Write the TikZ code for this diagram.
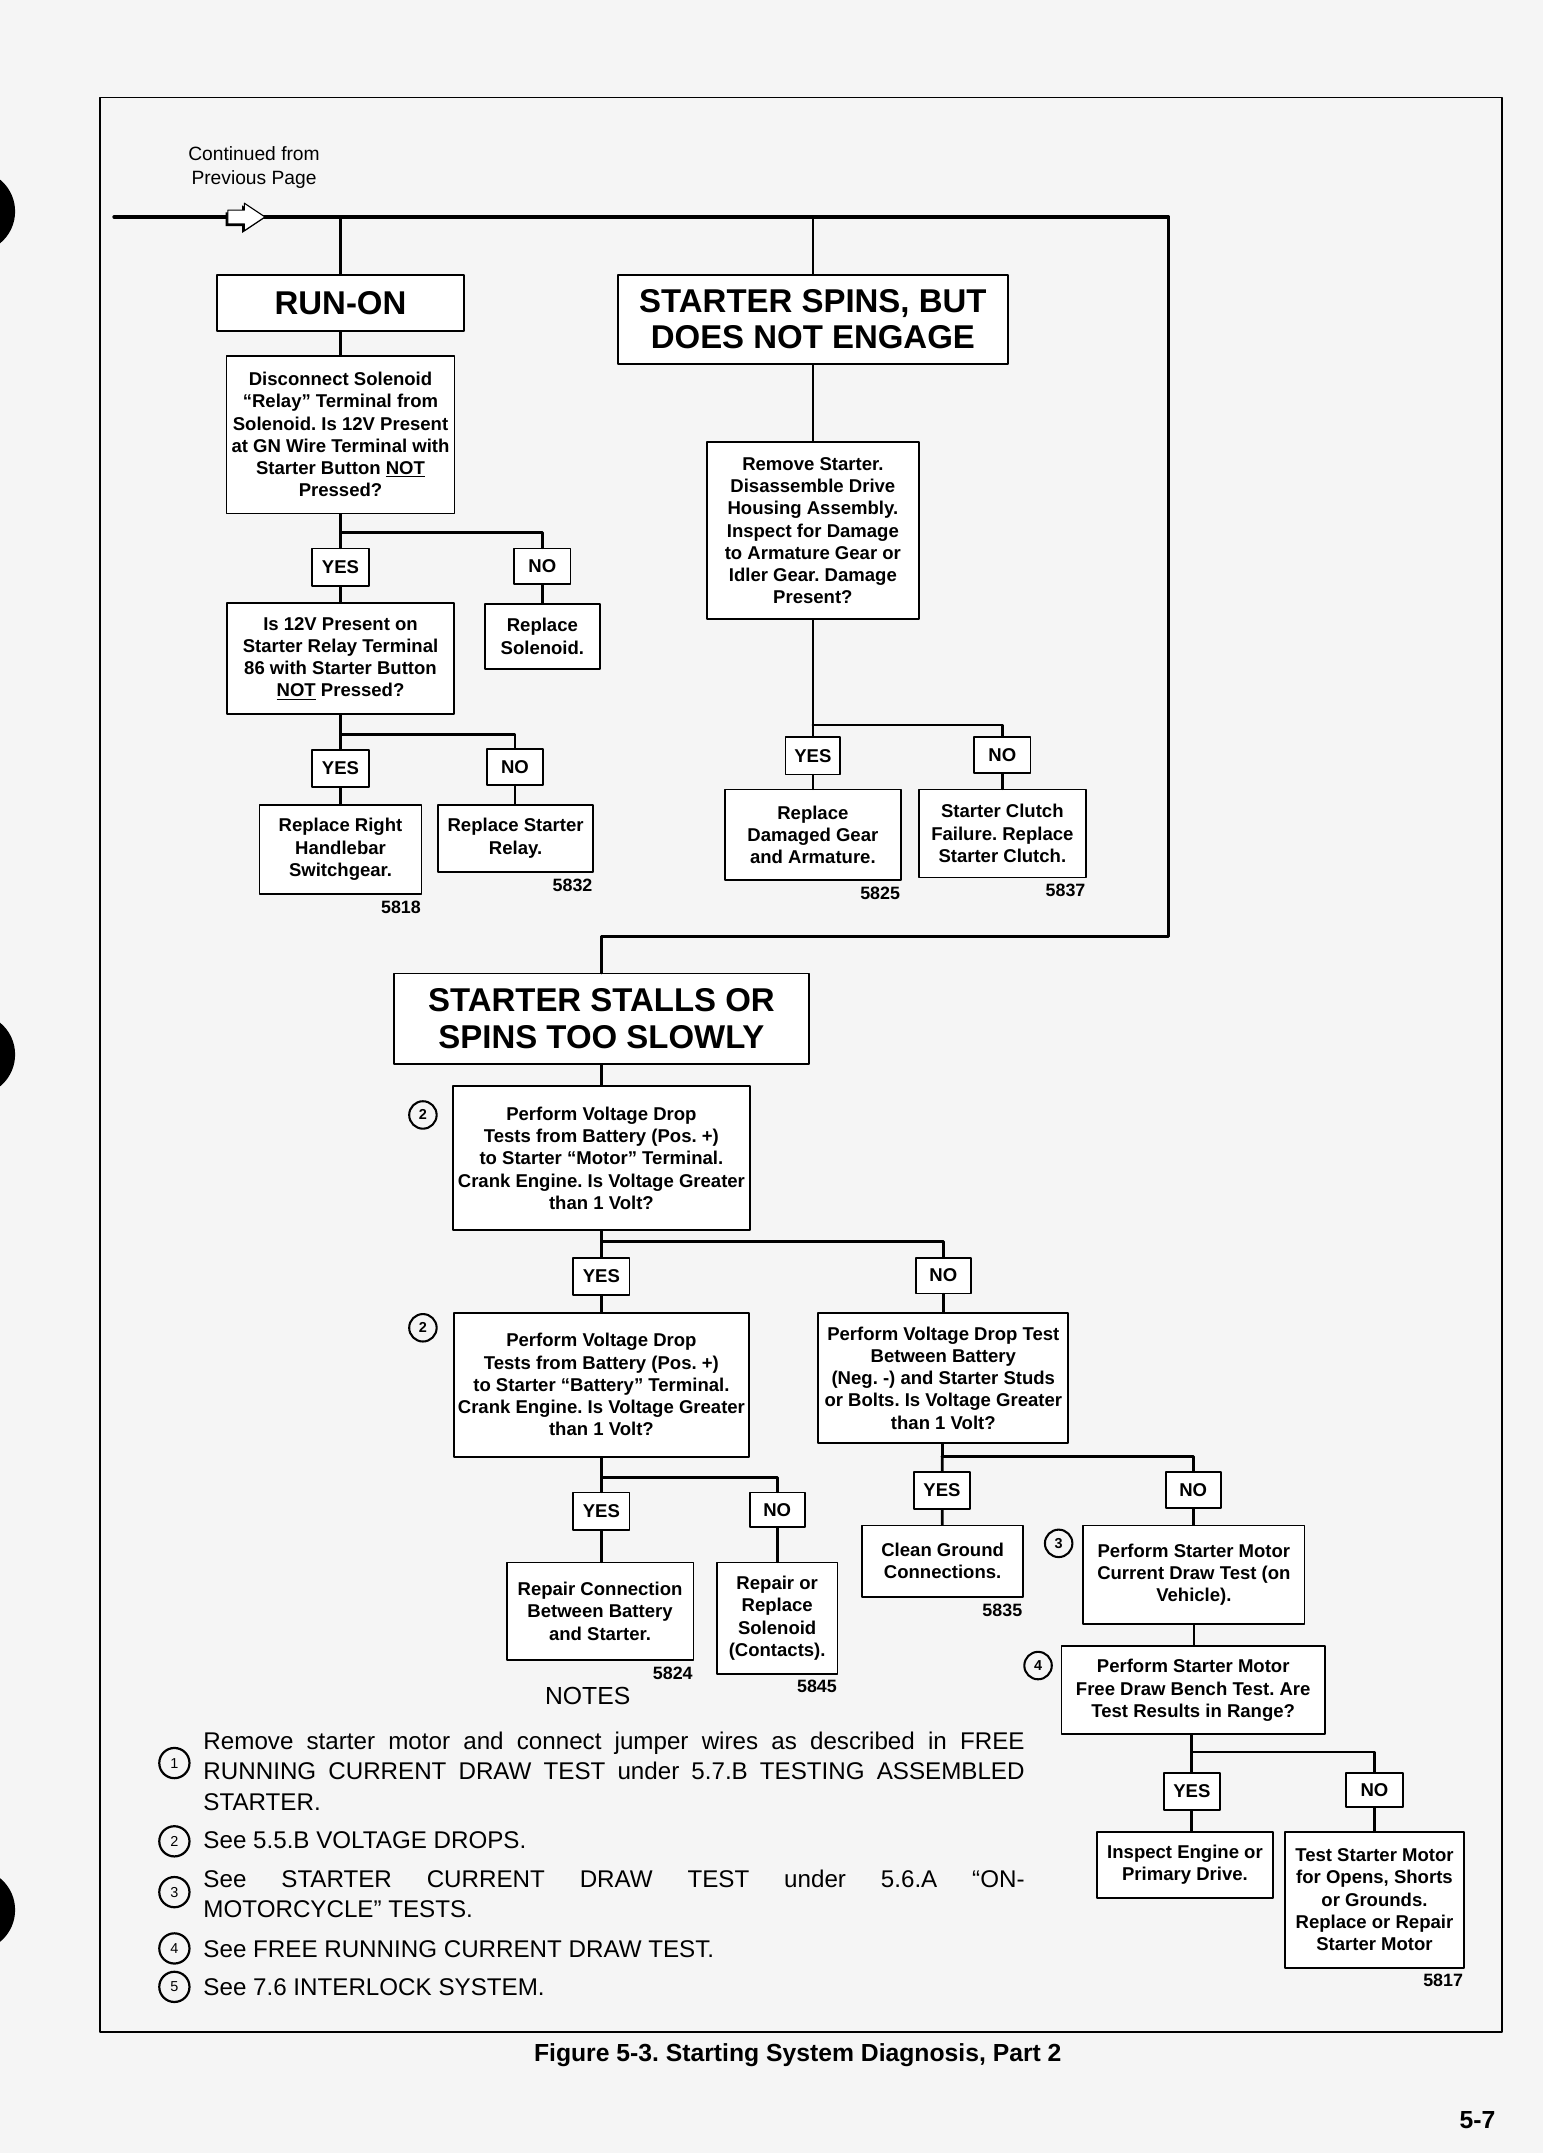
\documentclass[tikz,border=0pt]{standalone}
\usepackage{fontspec}
\setmainfont{Liberation Sans}
\frenchspacing
\newcommand{\boxtxt}{\bfseries\fontsize{13.5}{16.2}\selectfont}
\newcommand{\titletxt}{\bfseries\fontsize{24}{26.5}\selectfont}
\newcommand{\notetxt}{\fontsize{17.6}{22}\selectfont}
\begin{document}
\begin{tikzpicture}[x=1pt,y=-1pt,line cap=round,line join=round,
  diagbox/.style={draw,line width=1.3pt,fill=white,align=center,inner sep=0pt,font=\boxtxt},
  headbox/.style={diagbox,font=\titletxt},
  answer/.style={diagbox,minimum width=41pt,minimum height=27pt},
  conn/.style={line width=2pt},
  partno/.style={anchor=north east,inner sep=1pt,font=\bfseries\fontsize{13}{15}\selectfont},
  circnum/.style={draw,circle,line width=1.5pt,minimum size=20pt,inner sep=0pt,font=\bfseries\fontsize{10.5}{12}\selectfont},
  notenum/.style={draw,circle,line width=1.6pt,minimum size=22pt,inner sep=0pt,font=\fontsize{10.5}{12}\selectfont},
  noteline/.style={anchor=base west,inner sep=0pt,font=\notetxt}]
  \useasboundingbox (0,0) rectangle (1124,1568);
  \fill[black!4] (0,0) rectangle (1124,1568);
  \fill (-19,154) circle (30);
  \fill (-19,768) circle (30);
  \fill (-19,1391) circle (30);
  \draw[line width=1.2pt] (73,71) rectangle (1094,1480);
  \node[align=center,inner sep=0pt,font=\fontsize{14}{17}\selectfont] (cont) at (185,122) {Continued from\\Previous Page};
  \coordinate (start) at (83,158);
  \coordinate (ja) at (248,158);
  \coordinate (jb) at (592,158);
  \coordinate (ne) at (851,158);
  \coordinate (se) at (851,682);
  \coordinate (sw) at (438,682);
  \node[headbox,minimum width=180pt,minimum height=41pt] (runon) at (248,220.5) {RUN-ON};
  \node[diagbox,minimum width=166pt,minimum height=115pt] (discon) at (248,316.5) {Disconnect Solenoid\\“Relay” Terminal from\\Solenoid. Is 12V Present\\at GN Wire Terminal with\\Starter Button \underline{NOT}\\Pressed?};
  \node[answer] (yes1) at (248,413) {YES};
  \node[answer,minimum height=26pt] (no1) at (395,412.5) {NO};
  \node[diagbox,minimum width=165pt,minimum height=81pt] (chk12v) at (248,479.5) {Is 12V Present on\\Starter Relay Terminal\\86 with Starter Button\\\underline{NOT} Pressed?};
  \node[diagbox,minimum width=84pt,minimum height=47pt] (replsol) at (395,463.5) {Replace\\Solenoid.};
  \node[answer] (yes2) at (248,559.5) {YES};
  \node[answer,minimum height=26pt] (no2) at (375,558.5) {NO};
  \node[diagbox,minimum width=118pt,minimum height=65pt] (replsw) at (248,618.5) {Replace Right\\Handlebar\\Switchgear.};
  \node[diagbox,minimum width=113pt,minimum height=49pt] (replrly) at (375.5,610.5) {Replace Starter\\Relay.};
  \node[partno] (n5818) at ([yshift=-3pt]replsw.south east) {5818};
  \node[partno] (n5832) at ([yshift=-3pt]replrly.south east) {5832};
  \node[headbox,minimum width=284pt,minimum height=65pt] (spins) at (592,232.5) {STARTER SPINS, BUT\\DOES NOT ENGAGE};
  \node[diagbox,minimum width=154pt,minimum height=129pt] (remst) at (592,386.5) {Remove Starter.\\Disassemble Drive\\Housing Assembly.\\Inspect for Damage\\to Armature Gear or\\Idler Gear. Damage\\Present?};
  \node[answer,minimum width=40pt] (yes3) at (592,550.5) {YES};
  \node[answer,minimum height=26pt] (no3) at (730,550) {NO};
  \node[diagbox,minimum width=128pt,minimum height=66pt] (repgear) at (592,608) {Replace\\Damaged Gear\\and Armature.};
  \node[diagbox,minimum width=122pt,minimum height=64pt] (clutch) at (730,607) {Starter Clutch\\Failure. Replace\\Starter Clutch.};
  \node[partno] (n5825) at ([yshift=-3pt]repgear.south east) {5825};
  \node[partno] (n5837) at ([yshift=-3pt]clutch.south east) {5837};
  \node[headbox,minimum width=302pt,minimum height=66pt] (stalls) at (438,742) {STARTER STALLS OR\\SPINS TOO SLOWLY};
  \node[diagbox,minimum width=216pt,minimum height=105pt] (vd1) at (438,843.5) {Perform Voltage Drop\\Tests from Battery (Pos. +)\\to Starter “Motor” Terminal.\\Crank Engine. Is Voltage Greater\\than 1 Volt?};
  \node[circnum] (c2a) at (308,812) {2};
  \node[answer] (yes4) at (438,929.5) {YES};
  \node[answer,minimum width=40pt,minimum height=26pt] (no4) at (687,929) {NO};
  \node[diagbox,minimum width=215pt,minimum height=105pt] (vd2) at (438,1008.5) {Perform Voltage Drop\\Tests from Battery (Pos. +)\\to Starter “Battery” Terminal.\\Crank Engine. Is Voltage Greater\\than 1 Volt?};
  \node[circnum] (c2b) at (308,967) {2};
  \node[diagbox,minimum width=182pt,minimum height=95pt] (vdneg) at (687,1003.5) {Perform Voltage Drop Test\\Between Battery\\(Neg. -) and Starter Studs\\or Bolts. Is Voltage Greater\\than 1 Volt?};
  \node[answer] (yes5) at (438,1100.5) {YES};
  \node[answer,minimum width=40pt,minimum height=25pt] (no5) at (566,1099.5) {NO};
  \node[diagbox,minimum width=136pt,minimum height=71pt] (repconn) at (437,1173.5) {Repair Connection\\Between Battery\\and Starter.};
  \node[diagbox,minimum width=88pt,minimum height=81pt] (repsol) at (566,1178.5) {Repair or\\Replace\\Solenoid\\(Contacts).};
  \node[partno] (n5824) at ([yshift=-3pt]repconn.south east) {5824};
  \node[partno] (n5845) at ([yshift=-3pt]repsol.south east) {5845};
  \node[answer] (yes6) at (686,1085.5) {YES};
  \node[answer,minimum width=40pt,minimum height=26pt] (no6) at (869,1085) {NO};
  \node[diagbox,minimum width=117pt,minimum height=52pt] (clean) at (686.5,1137) {Clean Ground\\Connections.};
  \node[partno] (n5835) at ([yshift=-3pt]clean.south east) {5835};
  \node[diagbox,minimum width=161pt,minimum height=72pt] (curdraw) at (869.5,1147) {Perform Starter Motor\\Current Draw Test (on\\Vehicle).};
  \node[circnum] (c3) at (771,1124) {3};
  \node[diagbox,minimum width=192pt,minimum height=64pt] (bench) at (869,1231) {Perform Starter Motor\\Free Draw Bench Test. Are\\Test Results in Range?};
  \node[circnum] (c4) at (756,1213) {4};
  \node[answer] (yes7) at (868,1304.5) {YES};
  \node[answer,minimum height=25pt] (no7) at (1001,1303.5) {NO};
  \node[diagbox,minimum width=128pt,minimum height=48pt] (inspect) at (863,1358) {Inspect Engine or\\Primary Drive.};
  \node[diagbox,minimum width=130pt,minimum height=99pt] (testmot) at (1001,1383.5) {Test Starter Motor\\for Opens, Shorts\\or Grounds.\\Replace or Repair\\Starter Motor};
  \node[partno] (n5817) at ([yshift=-3pt]testmot.south east) {5817};
  \coordinate (j1) at (248,388);
  \coordinate (j2) at (248,535);
  \coordinate (j3) at (592,528);
  \coordinate (j4) at (438,904);
  \coordinate (j5) at (438,1076);
  \coordinate (j6) at (686,1061);
  \coordinate (j7) at (868,1276);
  \draw[line width=2.4pt] (start) -- (ne) -- (se) -- (sw) -- (stalls);
  \draw[conn] (ja) -- (runon);
  \draw[conn] (runon) -- (discon);
  \draw[conn] (discon) -- (yes1);
  \draw[conn] (j1) -| (no1);
  \draw[conn] (yes1) -- (chk12v);
  \draw[conn] (no1) -- (replsol);
  \draw[conn] (chk12v) -- (yes2);
  \draw[conn] (j2) -| (no2);
  \draw[conn] (yes2) -- (replsw);
  \draw[conn] (no2) -- (no2 |- replrly.north);
  \draw[conn] (jb) -- (spins);
  \draw[conn] (spins) -- (remst);
  \draw[conn] (remst) -- (yes3);
  \draw[conn] (j3) -| (no3);
  \draw[conn] (yes3) -- (repgear);
  \draw[conn] (no3) -- (clutch);
  \draw[conn] (stalls) -- (vd1);
  \draw[conn] (vd1) -- (yes4);
  \draw[conn] (j4) -| (no4);
  \draw[conn] (yes4) -- (vd2);
  \draw[conn] (no4) -- (vdneg);
  \draw[conn] (vd2) -- (yes5);
  \draw[conn] (j5) -| (no5);
  \draw[conn] (yes5) -- (yes5 |- repconn.north);
  \draw[conn] (no5) -- (repsol);
  \draw[conn] (vdneg) -- (yes6);
  \draw[conn] (j6) -| (no6);
  \draw[conn] (yes6) -- (clean);
  \draw[conn] (no6) -- (no6 |- curdraw.north);
  \draw[conn] (curdraw) -- (curdraw |- bench.north);
  \draw[conn] (bench.south -| yes7) -- (yes7);
  \draw[conn] (j7) -| (no7);
  \draw[conn] (yes7) -- (yes7 |- inspect.north);
  \draw[conn] (no7) -- (testmot);
  \fill[shift={(-1.6,1.6)}] (166,153) -- (178,153) -- (178,148) -- (193,158) -- (178,168) -- (178,163) -- (166,163) -- cycle;
  \draw[fill=white,line width=0.8pt] (166,153) -- (178,153) -- (178,148) -- (193,158) -- (178,168) -- (178,163) -- (166,163) -- cycle;
  \node[inner sep=0pt,font=\fontsize{18}{20}\selectfont] (notes) at (428,1235) {NOTES};
  \node[notenum] (m1) at (127,1284) {1};
  \node[noteline] (l1a) at (148,1274.3) {\makebox[598pt][s]{Remove starter motor and connect jumper wires as described in FREE}};
  \node[noteline] (l1b) at (148,1296.3) {\makebox[598pt][s]{RUNNING CURRENT DRAW TEST under 5.7.B TESTING ASSEMBLED}};
  \node[noteline] (l1c) at (148,1318.3) {STARTER.};
  \node[notenum] (m2) at (127,1341) {2};
  \node[noteline] (l2) at (148,1346.3) {See 5.5.B VOLTAGE DROPS.};
  \node[notenum] (m3) at (127,1378) {3};
  \node[noteline] (l3a) at (148,1374.3) {\makebox[598pt][s]{See STARTER CURRENT DRAW TEST under 5.6.A “ON-}};
  \node[noteline] (l3b) at (148,1396.3) {MOTORCYCLE” TESTS.};
  \node[notenum] (m4) at (127,1419) {4};
  \node[noteline] (l4) at (148,1425.3) {See FREE RUNNING CURRENT DRAW TEST.};
  \node[notenum] (m5) at (127,1447) {5};
  \node[noteline] (l5) at (148,1453.3) {See 7.6 INTERLOCK SYSTEM.};
  \node[inner sep=0pt,font=\bfseries\fontsize{18}{20}\selectfont] (caption) at (581,1497) {Figure 5-3. Starting System Diagnosis, Part 2};
  \node[inner sep=0pt,font=\bfseries\fontsize{18}{20}\selectfont] (pageno) at (1076,1544) {5-7};
\end{tikzpicture}
\end{document}
